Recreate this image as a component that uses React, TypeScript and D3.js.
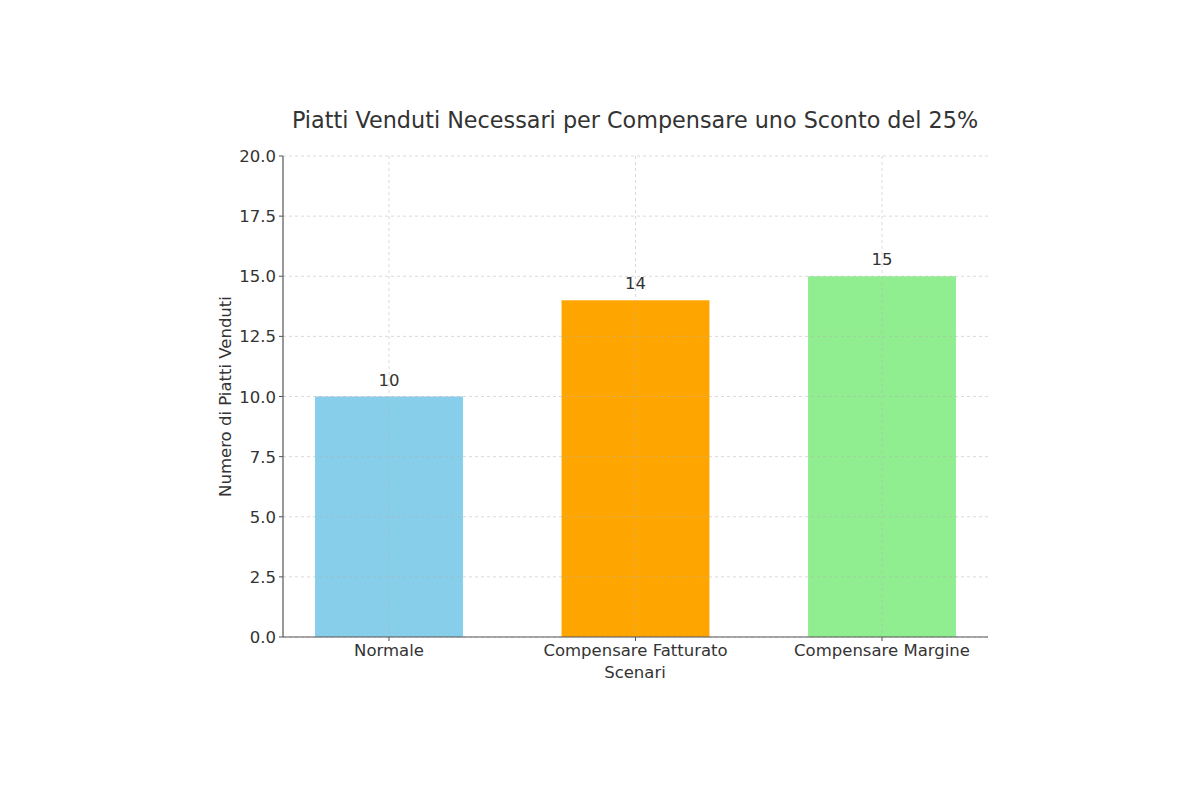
import React from "react";
import * as d3 from "d3";

const categories = ["Normale", "Compensare Fatturato", "Compensare Margine"];
const values = [10, 14, 15];
const colors = ["#87CEEB", "#FFA500", "#90EE90"];
const yTicks = [0, 2.5, 5, 7.5, 10, 12.5, 15, 17.5, 20];

export default function App() {
  const W = 1200, H = 800;
  const left = 283, right = 988, top = 156, bottom = 637;
  const x = d3.scaleLinear().domain([-0.43, 2.43]).range([left, right]);
  const y = d3.scaleLinear().domain([0, 20]).range([bottom, top]);
  const bw = x(0.6) - x(0);
  const font = "DejaVu Sans, sans-serif";
  const tc = "#333";
  const fs = 16.5;
  return (
    <svg width={W} height={H} style={{ position: "absolute", left: 0, top: 0, background: "#fff" }} fontFamily={font}>
      <text x={635} y={128} textAnchor="middle" fontSize={22.3} fill={tc}>
        Piatti Venduti Necessari per Compensare uno Sconto del 25%
      </text>
      {categories.map((c, i) => (
        <rect key={c} x={x(i) - bw / 2} y={y(values[i])} width={bw} height={y(0) - y(values[i])} fill={colors[i]} />
      ))}
      {yTicks.map((t) => (
        <line key={"gy" + t} x1={left} x2={right} y1={y(t)} y2={y(t)} stroke="#b0b0b0" strokeOpacity={0.6} strokeDasharray="3,3" strokeWidth={0.8} />
      ))}
      {categories.map((c, i) => (
        <line key={"gx" + c} x1={x(i)} x2={x(i)} y1={top} y2={bottom} stroke="#b0b0b0" strokeOpacity={0.6} strokeDasharray="3,3" strokeWidth={0.8} />
      ))}
      {categories.map((c, i) => (
        <text key={"v" + c} x={x(i)} y={y(values[i]) - 11} textAnchor="middle" fontSize={fs} fill={tc}>
          {values[i]}
        </text>
      ))}
      <line x1={left} x2={left} y1={top} y2={bottom} stroke="#555" strokeWidth={1.2} />
      <line x1={left} x2={right} y1={bottom} y2={bottom} stroke="#555" strokeWidth={1.2} />
      {yTicks.map((t) => (
        <g key={"ty" + t}>
          <line x1={left - 4} x2={left} y1={y(t)} y2={y(t)} stroke="#555" strokeWidth={1} />
          <text x={left - 7} y={y(t) + 6} textAnchor="end" fontSize={fs} fill={tc}>
            {t.toFixed(1)}
          </text>
        </g>
      ))}
      {categories.map((c, i) => (
        <g key={"tx" + c}>
          <line x1={x(i)} x2={x(i)} y1={bottom} y2={bottom + 4} stroke="#555" strokeWidth={1} />
          <text x={x(i)} y={bottom + 19} textAnchor="middle" fontSize={fs} fill={tc}>
            {c}
          </text>
        </g>
      ))}
      <text x={635} y={678} textAnchor="middle" fontSize={fs} fill={tc}>Scenari</text>
      <text transform={`translate(231,${(top + bottom) / 2}) rotate(-90)`} textAnchor="middle" fontSize={fs} fill={tc}>
        Numero di Piatti Venduti
      </text>
    </svg>
  );
}
